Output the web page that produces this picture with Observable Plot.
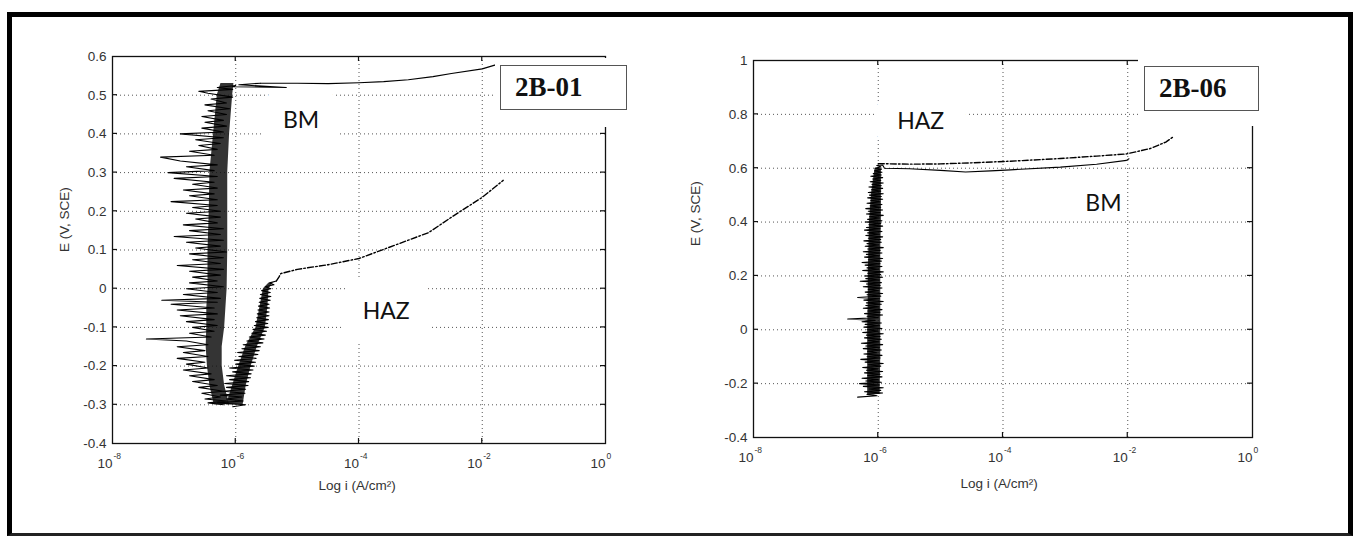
<!DOCTYPE html>
<html><head><meta charset="utf-8">
<script src="https://cdn.jsdelivr.net/npm/d3@7"></script>
<script src="https://cdn.jsdelivr.net/npm/@observablehq/plot@0.6"></script>
<style>
html,body{margin:0;padding:0;background:#fff;}
#wrap{position:relative;width:1354px;height:536px;overflow:hidden;background:#fff;}
#border{position:absolute;left:7px;top:12px;width:1336px;height:516px;border:5px solid #000;border-bottom:3px solid #222;pointer-events:none;}
.panel{position:absolute;top:0;}
.mask{position:absolute;background:#fff;}
.tag{position:absolute;box-sizing:border-box;border:1.5px solid #555;background:#fff;font-family:"Liberation Serif","Times New Roman",serif;font-weight:bold;font-size:27px;display:flex;align-items:center;padding-left:14px;color:#111;}
</style></head>
<body><div id="wrap"></div>
<script>
// ---------- DATA ----------
// x values are log10(i, A/cm²); y values are E (V, SCE); pairs are [E, log i]
const xTickValues = [-8, -6, -4, -2, 0];
const xTickExponents = ["-8", "-6", "-4", "-2", "0"];

const yTicks01 = [-0.4, -0.3, -0.2, -0.1, 0, 0.1, 0.2, 0.3, 0.4, 0.5, 0.6];
const yLabels01 = ["-0.4", "-0.3", "-0.2", "-0.1", "0", "0.1", "0.2", "0.3", "0.4", "0.5", "0.6"];
const yTicks06 = [-0.4, -0.2, 0, 0.2, 0.4, 0.6, 0.8, 1];
const yLabels06 = ["-0.4", "-0.2", "0", "0.2", "0.4", "0.6", "0.8", "1"];

// 2B-01, base metal (BM): noisy passive region then breakdown
const bm01Noise = [
[-0.300,-6.20],[-0.295,-6.45],[-0.290,-6.15],[-0.285,-6.50],[-0.280,-6.25],[-0.270,-6.55],[-0.265,-6.20],[-0.255,-6.60],
[-0.250,-6.30],[-0.240,-6.70],[-0.235,-6.35],[-0.225,-6.75],[-0.220,-6.40],[-0.210,-6.85],[-0.205,-6.45],[-0.195,-6.80],
[-0.190,-6.50],[-0.180,-6.95],[-0.175,-6.45],[-0.165,-6.85],[-0.160,-6.50],[-0.150,-6.95],[-0.145,-6.45],[-0.135,-6.80],
[-0.130,-7.45],[-0.125,-6.40],[-0.115,-6.75],[-0.110,-6.35],[-0.100,-6.70],[-0.095,-6.30],[-0.085,-6.80],[-0.080,-6.35],
[-0.070,-6.90],[-0.065,-6.30],[-0.055,-6.95],[-0.050,-6.35],[-0.040,-7.05],[-0.035,-6.30],[-0.030,-7.20],[-0.025,-6.25],
[-0.015,-6.85],[-0.010,-6.30],[0.000,-6.80],[0.005,-6.20],[0.015,-6.75],[0.020,-6.30],[0.030,-6.70],[0.035,-6.25],
[0.045,-6.75],[0.050,-6.20],[0.060,-6.95],[0.065,-6.25],[0.075,-6.70],[0.080,-6.20],[0.090,-6.75],[0.095,-6.15],
[0.105,-6.65],[0.110,-6.25],[0.120,-6.80],[0.125,-6.20],[0.135,-7.00],[0.140,-6.25],[0.150,-6.75],[0.155,-6.20],
[0.165,-6.85],[0.170,-6.30],[0.180,-6.65],[0.185,-6.25],[0.195,-6.80],[0.200,-6.25],[0.210,-6.70],[0.215,-6.30],
[0.225,-7.05],[0.230,-6.30],[0.240,-6.75],[0.245,-6.35],[0.255,-6.85],[0.260,-6.30],[0.270,-6.70],[0.275,-6.35],
[0.285,-7.00],[0.290,-6.30],[0.300,-7.10],[0.305,-6.35],[0.315,-6.80],[0.320,-6.30],[0.330,-6.90],[0.340,-7.22],
[0.345,-6.35],[0.355,-6.75],[0.360,-6.30],[0.370,-6.60],[0.375,-6.25],[0.385,-6.65],[0.390,-6.20],[0.400,-6.90],
[0.405,-6.20],[0.415,-6.55],[0.420,-6.15],[0.430,-6.50],[0.435,-6.20],[0.445,-6.55],[0.450,-6.15],[0.460,-6.45],
[0.465,-6.10],[0.475,-6.50],[0.480,-6.15],[0.490,-6.40],[0.495,-6.05],[0.505,-6.45],[0.510,-6.60],[0.515,-6.05],
[0.520,-6.30],[0.525,-6.00],[0.522,-6.05],[0.520,-5.18],[0.527,-5.95],[0.531,-5.60]
];
// dense core of the noisy BM band: [E, log i low, log i high]
const bm01Core = [
[-0.30,-6.35,-6.10],[-0.25,-6.42,-6.18],[-0.20,-6.46,-6.22],[-0.15,-6.48,-6.22],[-0.10,-6.47,-6.18],
[-0.05,-6.47,-6.16],[0.00,-6.45,-6.14],[0.10,-6.45,-6.13],[0.20,-6.43,-6.13],[0.30,-6.42,-6.13],
[0.40,-6.36,-6.10],[0.50,-6.30,-6.05],[0.53,-6.24,-6.03]
];
const bm01Anodic = [
[0.531,-5.60],[0.531,-5.00],[0.530,-4.50],[0.532,-4.00],[0.535,-3.60],[0.540,-3.20],[0.548,-2.80],[0.556,-2.50],
[0.568,-2.00],[0.579,-1.77]
];
// 2B-01, heat affected zone (HAZ)
const haz01Noise = [
[-0.305,-6.05],[-0.300,-5.84],[-0.295,-6.30],[-0.290,-5.88],[-0.285,-6.15],[-0.280,-5.90],[-0.275,-6.25],[-0.270,-5.85],
[-0.265,-6.20],[-0.260,-5.84],[-0.255,-6.15],[-0.250,-5.80],[-0.245,-6.18],[-0.240,-5.79],[-0.235,-6.10],[-0.230,-5.76],
[-0.225,-6.15],[-0.220,-5.75],[-0.215,-6.05],[-0.210,-5.72],[-0.205,-6.10],[-0.200,-5.70],[-0.195,-6.00],[-0.190,-5.68],
[-0.185,-6.02],[-0.180,-5.67],[-0.175,-5.95],[-0.170,-5.64],[-0.165,-5.97],[-0.160,-5.62],[-0.155,-5.90],[-0.150,-5.60],
[-0.145,-5.88],[-0.140,-5.56],[-0.135,-5.82],[-0.130,-5.54],[-0.125,-5.78],[-0.120,-5.52],[-0.115,-5.74],[-0.110,-5.50],
[-0.105,-5.72],[-0.100,-5.48],[-0.095,-5.70],[-0.090,-5.48],[-0.085,-5.68],[-0.080,-5.47],[-0.075,-5.66],[-0.070,-5.46],
[-0.065,-5.65],[-0.060,-5.46],[-0.055,-5.64],[-0.050,-5.45],[-0.045,-5.63],[-0.040,-5.46],[-0.035,-5.62],[-0.030,-5.44],
[-0.025,-5.61],[-0.020,-5.43],[-0.015,-5.60],[-0.010,-5.44],[-0.005,-5.58],[0.000,-5.43],[0.005,-5.52],[0.010,-5.38],
[0.015,-5.45],[0.020,-5.34]
];
const haz01Core = [
[-0.30,-6.15,-5.88],[-0.25,-6.05,-5.83],[-0.20,-5.95,-5.75],[-0.15,-5.84,-5.65],[-0.10,-5.67,-5.52],
[-0.05,-5.61,-5.48],[0.00,-5.55,-5.46],[0.015,-5.46,-5.39]
];
const haz01Anodic = [
[0.020,-5.34],[0.030,-5.30],[0.039,-5.27],[0.050,-5.00],[0.062,-4.50],[0.078,-4.00],[0.104,-3.56],[0.145,-2.87],
[0.189,-2.46],[0.236,-2.00],[0.280,-1.66]
];

// 2B-06, shared noisy passive band
const bm06Noise = [
[-0.250,-6.33],[-0.245,-6.02],[-0.240,-6.18],[-0.235,-5.93],[-0.230,-6.22],[-0.225,-5.96],[-0.220,-6.15],[-0.215,-5.92],
[-0.210,-6.24],[-0.205,-5.98],[-0.200,-6.30],[-0.195,-5.95],[-0.190,-6.20],[-0.185,-6.00],[-0.180,-6.26],[-0.175,-5.94],
[-0.170,-6.17],[-0.165,-5.97],[-0.160,-6.22],[-0.155,-5.93],[-0.150,-6.19],[-0.145,-6.01],[-0.140,-6.25],[-0.135,-5.96],
[-0.130,-6.16],[-0.125,-5.92],[-0.120,-6.21],[-0.115,-5.99],[-0.110,-6.28],[-0.105,-5.97],[-0.100,-6.18],[-0.095,-5.94],
[-0.090,-6.23],[-0.085,-6.02],[-0.080,-6.17],[-0.075,-5.95],[-0.070,-6.24],[-0.065,-5.98],[-0.060,-6.20],[-0.055,-5.93],
[-0.050,-6.27],[-0.045,-5.99],[-0.040,-6.16],[-0.035,-5.95],[-0.030,-6.22],[-0.025,-5.97],[-0.020,-6.19],[-0.015,-5.92],
[-0.010,-6.25],[-0.005,-6.00],[0.000,-6.18],[0.005,-5.94],[0.010,-6.23],[0.015,-5.98],[0.020,-6.21],[0.025,-5.95],
[0.030,-6.26],[0.035,-6.05],[0.040,-6.49],[0.045,-6.00],[0.050,-6.18],[0.055,-5.93],[0.060,-6.22],[0.065,-5.97],
[0.070,-6.17],[0.075,-5.94],[0.080,-6.24],[0.085,-5.99],[0.090,-6.20],[0.095,-5.95],[0.100,-6.19],[0.105,-5.92],
[0.110,-6.23],[0.115,-5.98],[0.120,-6.33],[0.125,-5.96],[0.130,-6.18],[0.135,-5.93],[0.140,-6.21],[0.145,-5.99],
[0.150,-6.16],[0.155,-5.94],[0.160,-6.24],[0.165,-5.97],[0.170,-6.19],[0.175,-5.95],[0.180,-6.29],[0.185,-5.98],
[0.190,-6.20],[0.195,-5.93],[0.200,-6.22],[0.205,-5.96],[0.210,-6.17],[0.215,-5.92],[0.220,-6.25],[0.225,-5.99],
[0.230,-6.18],[0.235,-5.94],[0.240,-6.21],[0.245,-5.97],[0.250,-6.26],[0.255,-5.95],[0.260,-6.16],[0.265,-5.93],
[0.270,-6.22],[0.275,-5.98],[0.280,-6.19],[0.285,-5.94],[0.290,-6.24],[0.295,-5.97],[0.300,-6.17],[0.305,-5.92],
[0.310,-6.21],[0.315,-5.99],[0.320,-6.18],[0.325,-5.95],[0.330,-6.23],[0.335,-5.96],[0.340,-6.16],[0.345,-5.93],
[0.350,-6.20],[0.355,-5.98],[0.360,-6.17],[0.365,-5.94],[0.370,-6.22],[0.375,-5.97],[0.380,-6.19],[0.385,-5.93],
[0.390,-6.15],[0.395,-5.96],[0.400,-6.21],[0.405,-5.94],[0.410,-6.17],[0.415,-5.98],[0.420,-6.14],[0.425,-5.92],
[0.430,-6.19],[0.435,-5.97],[0.440,-6.16],[0.445,-5.93],[0.450,-6.20],[0.455,-5.96],[0.460,-6.13],[0.465,-5.94],
[0.470,-6.18],[0.475,-5.97],[0.480,-6.12],[0.485,-5.93],[0.490,-6.17],[0.495,-5.95],[0.500,-6.14],[0.505,-5.92],
[0.510,-6.16],[0.515,-5.96],[0.520,-6.11],[0.525,-5.93],[0.530,-6.15],[0.535,-5.95],[0.540,-6.10],[0.545,-5.92],
[0.550,-6.13],[0.555,-5.96],[0.560,-6.09],[0.565,-5.93],[0.570,-6.12],[0.575,-5.95],[0.580,-6.08],[0.585,-5.94],
[0.590,-6.06],[0.595,-5.95],[0.600,-6.05],[0.605,-5.96],[0.610,-6.02]
];
const bm06Core = [
[-0.24,-6.17,-5.97],[-0.10,-6.17,-5.96],[0.00,-6.17,-5.96],[0.10,-6.16,-5.96],[0.20,-6.16,-5.96],
[0.30,-6.15,-5.96],[0.40,-6.14,-5.95],[0.50,-6.11,-5.95],[0.60,-6.05,-5.95]
];
const bm06Anodic = [
[0.610,-6.02],[0.612,-5.93],[0.600,-5.90],[0.598,-5.50],[0.592,-5.00],[0.586,-4.60],[0.590,-4.20],[0.594,-3.88],
[0.604,-3.08],[0.615,-2.50],[0.629,-2.02],[0.635,-1.98]
];
const haz06Anodic = [
[0.617,-6.00],[0.615,-5.50],[0.616,-5.00],[0.620,-4.50],[0.626,-3.88],[0.636,-3.08],[0.645,-2.50],[0.653,-2.02],
[0.673,-1.64],[0.697,-1.39],[0.715,-1.28]
];

// region labels [text, log i, E, masksGrid]
const labels01 = [["BM", -4.94, 0.435, true], ["HAZ", -3.56, -0.059, true]];
const labels06 = [["HAZ", -5.32, 0.773, true], ["BM", -2.39, 0.469, false]];
const specimen01 = "2B-01";
const specimen06 = "2B-06";

// ---------- DRAWING ----------
const AXIS_FONT = "'Liberation Sans', Arial, sans-serif";
const LABEL_FONT = "Lato, 'Open Sans', sans-serif";
const DASHDOT = "6,2.2,1.6,2.2";

function inwardTicks(xt, yt, len) {
  return (index, scales, values, dimensions) => {
    const {width, height, marginLeft, marginRight, marginTop, marginBottom} = dimensions;
    const x0 = marginLeft, x1 = width - marginRight, y0 = marginTop, y1 = height - marginBottom;
    const g = d3.create("svg:g").attr("stroke", "#111").attr("stroke-width", 1.2);
    for (const t of yt) {
      const y = scales.y(t);
      g.append("line").attr("x1", x0).attr("x2", x0 + len).attr("y1", y).attr("y2", y);
      g.append("line").attr("x1", x1).attr("x2", x1 - len).attr("y1", y).attr("y2", y);
    }
    for (const t of xt) {
      const x = scales.x(t);
      g.append("line").attr("x1", x).attr("x2", x).attr("y1", y1).attr("y2", y1 - len);
      g.append("line").attr("x1", x).attr("x2", x).attr("y1", y0).attr("y2", y0 + len);
    }
    return g.node();
  };
}

function panel(o) {
  const yMin = o.yDomain[0];
  const yt = o.yTicks.map((v, i) => ({v, label: o.yLabels[i]}));
  const xt = xTickValues.map((v, i) => ({v, e: xTickExponents[i]}));
  const lab = o.labels.map(([t, x, y, m]) => ({t, x, y, m}));
  const P = (d) => d[1], E = (d) => d[0];
  return Plot.plot({
    width: o.width, height: 536,
    marginLeft: o.ml, marginRight: o.mr, marginTop: o.mt, marginBottom: o.mb,
    x: {domain: [-8, 0], axis: null},
    y: {domain: o.yDomain, axis: null},
    style: {background: "transparent", fontFamily: AXIS_FONT, overflow: "visible"},
    marks: [
      Plot.ruleY(o.yTicks.slice(1, -1), {stroke: "#555", strokeWidth: 1, strokeDasharray: "1,3"}),
      Plot.ruleX(xTickValues.slice(1, -1), {stroke: "#555", strokeWidth: 1, strokeDasharray: "1,3"}),
      Plot.text(lab.filter(d => d.m), {x: "x", y: "y", text: "t", fontFamily: LABEL_FONT, fontSize: 23, fill: "#111", stroke: "white", strokeWidth: 46}),
      Plot.text(lab.filter(d => !d.m), {x: "x", y: "y", text: "t", fontFamily: LABEL_FONT, fontSize: 23, fill: "#111"}),
      ...o.cores.map(c => Plot.areaX(c, {y: d => d[0], x1: d => d[1], x2: d => d[2], fill: "#111", fillOpacity: 0.85})),
      ...o.solid.map(s => Plot.line(s, {x: P, y: E, stroke: "#000", strokeWidth: 1.1})),
      ...o.dashed.map(s => Plot.line(s, {x: P, y: E, stroke: "#000", strokeWidth: 1.4, strokeDasharray: DASHDOT})),
      Plot.frame({stroke: "#111", strokeWidth: 1.3}),
      inwardTicks(xTickValues.slice(1, -1), o.yTicks.slice(1, -1), 5),
      Plot.text(yt, {x: -8, y: "v", text: "label", textAnchor: "end", dx: -6, fontSize: 13.5, fill: "#333"}),
      Plot.text(xt, {x: "v", y: yMin, text: () => "10", textAnchor: "end", dx: 0, dy: 20, fontSize: 13.5, fill: "#333"}),
      Plot.text(xt, {x: "v", y: yMin, text: "e", textAnchor: "start", dx: 1, dy: 13, fontSize: 8.5, fill: "#333"}),
      Plot.text([0], {frameAnchor: "bottom", dx: o.xtDx, dy: o.xtDy, text: () => "Log i (A/cm\u00B2)", fontSize: 13.5, fill: "#333"}),
      Plot.text([0], {frameAnchor: "left", dx: o.ytDx, dy: o.ytDy, rotate: -90, text: () => "E (V, SCE)", fontSize: 13.5, fill: "#333"})
    ]
  });
}

const wrap = document.getElementById("wrap");

const p1 = panel({
  width: 680, ml: 112, mr: 75, mt: 56, mb: 93,
  yDomain: [-0.4, 0.6], yTicks: yTicks01, yLabels: yLabels01,
  cores: [bm01Core, haz01Core],
  solid: [bm01Noise, bm01Anodic, haz01Noise], dashed: [haz01Anodic],
  labels: labels01, xtDx: -2, xtDy: 46, ytDx: -48, ytDy: 2
});
p1.classList.add("panel"); p1.style.left = "0px";
wrap.appendChild(p1);

const p2 = panel({
  width: 674, ml: 73, mr: 102, mt: 60, mb: 99,
  yDomain: [-0.4, 1], yTicks: yTicks06, yLabels: yLabels06,
  cores: [bm06Core],
  solid: [bm06Noise, bm06Anodic], dashed: [haz06Anodic],
  labels: labels06, xtDx: -4, xtDy: 50, ytDx: -58, ytDy: -3
});
p2.classList.add("panel"); p2.style.left = "680px";
wrap.appendChild(p2);

function addDiv(cls, l, t, w, h, text) {
  const d = document.createElement("div");
  d.className = cls;
  Object.assign(d.style, {left: l + "px", top: t + "px", width: w + "px", height: h + "px"});
  if (text) d.textContent = text;
  wrap.appendChild(d);
  return d;
}
addDiv("mask", 495, 58, 137, 69);
addDiv("tag", 500, 65, 127, 45, specimen01);
addDiv("mask", 1138, 54, 126, 72);
addDiv("tag", 1144, 66, 115, 45, specimen06);
const b = document.createElement("div"); b.id = "border"; wrap.appendChild(b);
</script>
</body></html>
